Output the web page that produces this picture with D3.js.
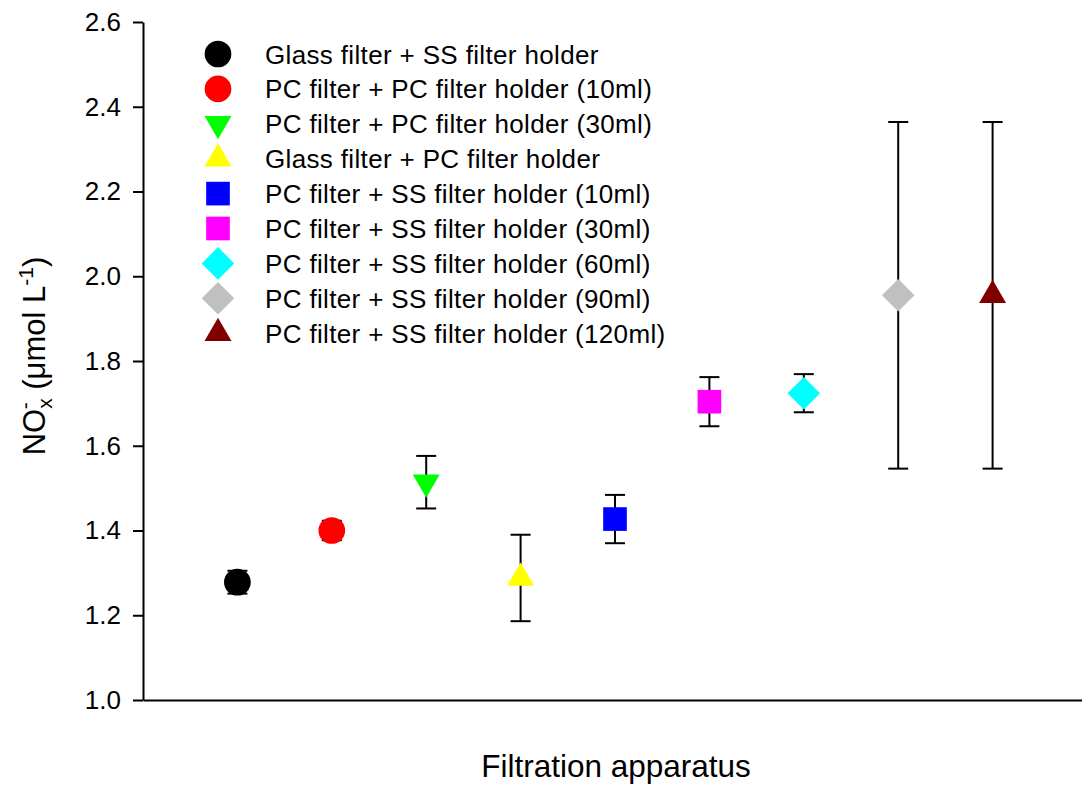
<!DOCTYPE html>
<html>
<head>
<meta charset="utf-8">
<script src="https://cdn.jsdelivr.net/npm/d3@7"></script>
<style>
body{margin:0;background:#fff;}
text{font-family:Arial,"Liberation Sans",sans-serif;fill:#000;}
</style>
</head>
<body>
<svg id="chart" width="1082" height="790"></svg>
<script>
const categories = [
  "Glass filter + SS filter holder",
  "PC filter + PC filter holder (10ml)",
  "PC filter + PC filter holder (30ml)",
  "Glass filter + PC filter holder",
  "PC filter + SS filter holder (10ml)",
  "PC filter + SS filter holder (30ml)",
  "PC filter + SS filter holder (60ml)",
  "PC filter + SS filter holder (90ml)",
  "PC filter + SS filter holder (120ml)"
];
const means  = [1.278, 1.400, 1.514, 1.288, 1.427, 1.704, 1.724, 1.955, 1.955];
const errors = [0.027, 0.023, 0.062, 0.102, 0.057, 0.058, 0.045, 0.409, 0.409];
const colors = ["#000000","#ff0000","#00ff00","#ffff00","#0000ff","#ff00ff","#00ffff","#c0c0c0","#800000"];
const shapes = ["circle","circle","triangleDown","triangleUp","square","square","diamond","diamond","triangleUp"];
const yTicks = [1.0, 1.2, 1.4, 1.6, 1.8, 2.0, 2.2, 2.4, 2.6];

const svg = d3.select("#chart");
const mLeft = 143, mBottom = 700, mTop = 22;
const x = d3.scaleLinear().domain([0, 10]).range([mLeft, mLeft + 944]);
const y = d3.scaleLinear().domain([1.0, 2.6]).range([mBottom, mTop]);

function symbolPath(shape) {
  if (shape === "circle") return d3.symbol(d3.symbolCircle, 560)();
  if (shape === "square") return d3.symbol(d3.symbolSquare, 560)();
  if (shape === "diamond") return d3.symbol(d3.symbolSquare, 530)();
  return d3.symbol(d3.symbolTriangle, 315)();
}
function symbolTransform(shape, px, py) {
  if (shape === "diamond") return `translate(${px},${py}) rotate(45)`;
  if (shape === "triangleDown") return `translate(${px},${py}) rotate(180)`;
  return `translate(${px},${py})`;
}

// Y axis
const yAxis = d3.axisLeft(y).tickValues(yTicks).tickFormat(d3.format(".1f")).tickSize(10).tickSizeOuter(0);
const yg = svg.append("g").attr("transform", `translate(${mLeft},0)`).call(yAxis);
yg.select(".domain").attr("stroke", "#000").attr("stroke-width", 2);
yg.selectAll(".tick line").attr("stroke", "#000").attr("stroke-width", 2);
yg.selectAll(".tick text").attr("font-size", 26).attr("x", -22).attr("fill", "#000")
  .style("font-family", "Arial, 'Liberation Sans', sans-serif");

// X axis line (no ticks)
const xAxis = d3.axisBottom(x).tickValues([]).tickSizeOuter(0);
const xg = svg.append("g").attr("transform", `translate(0,${mBottom})`).call(xAxis);
xg.select(".domain").attr("stroke", "#000").attr("stroke-width", 2);

// Error bars
const capW = 10;
const eb = svg.append("g");
categories.forEach((c, i) => {
  const px = x(i + 1);
  const y1 = y(means[i] + errors[i]), y2 = y(means[i] - errors[i]);
  eb.append("line").attr("x1", px).attr("x2", px).attr("y1", y1).attr("y2", y2).attr("stroke", "#000").attr("stroke-width", 2);
  eb.append("line").attr("x1", px - capW).attr("x2", px + capW).attr("y1", y1).attr("y2", y1).attr("stroke", "#000").attr("stroke-width", 2);
  eb.append("line").attr("x1", px - capW).attr("x2", px + capW).attr("y1", y2).attr("y2", y2).attr("stroke", "#000").attr("stroke-width", 2);
});

// Markers
svg.append("g").selectAll("path").data(categories).join("path")
  .attr("d", (d, i) => symbolPath(shapes[i]))
  .attr("transform", (d, i) => symbolTransform(shapes[i], x(i + 1), y(means[i])))
  .attr("fill", (d, i) => colors[i]);

// Legend
const lg = svg.append("g");
categories.forEach((c, i) => {
  const ly = 54 + i * 34.9;
  lg.append("path").attr("d", symbolPath(shapes[i]))
    .attr("transform", symbolTransform(shapes[i], 218, ly))
    .attr("fill", colors[i]);
  lg.append("text").attr("x", 265).attr("y", ly + 9.5).attr("font-size", 26)
    .attr("letter-spacing", 0.35).text(c);
});

// Axis titles
svg.append("text").attr("x", 616).attr("y", 777).attr("text-anchor", "middle").attr("font-size", 31.5).text("Filtration apparatus");

const yt = svg.append("text").attr("transform", "translate(45,356) rotate(-90)").attr("text-anchor", "middle").attr("font-size", 31);
yt.append("tspan").text("NO");
yt.append("tspan").attr("font-size", 21).attr("dy", 7).text("x");
yt.append("tspan").attr("font-size", 21).attr("dx", -11).attr("dy", -20).text("-");
yt.append("tspan").attr("dy", 13).attr("dx", 4).text(" (μmol L");
yt.append("tspan").attr("font-size", 21).attr("dy", -12).text("-1");
yt.append("tspan").attr("dy", 12).text(")");
</script>
</body>
</html>
